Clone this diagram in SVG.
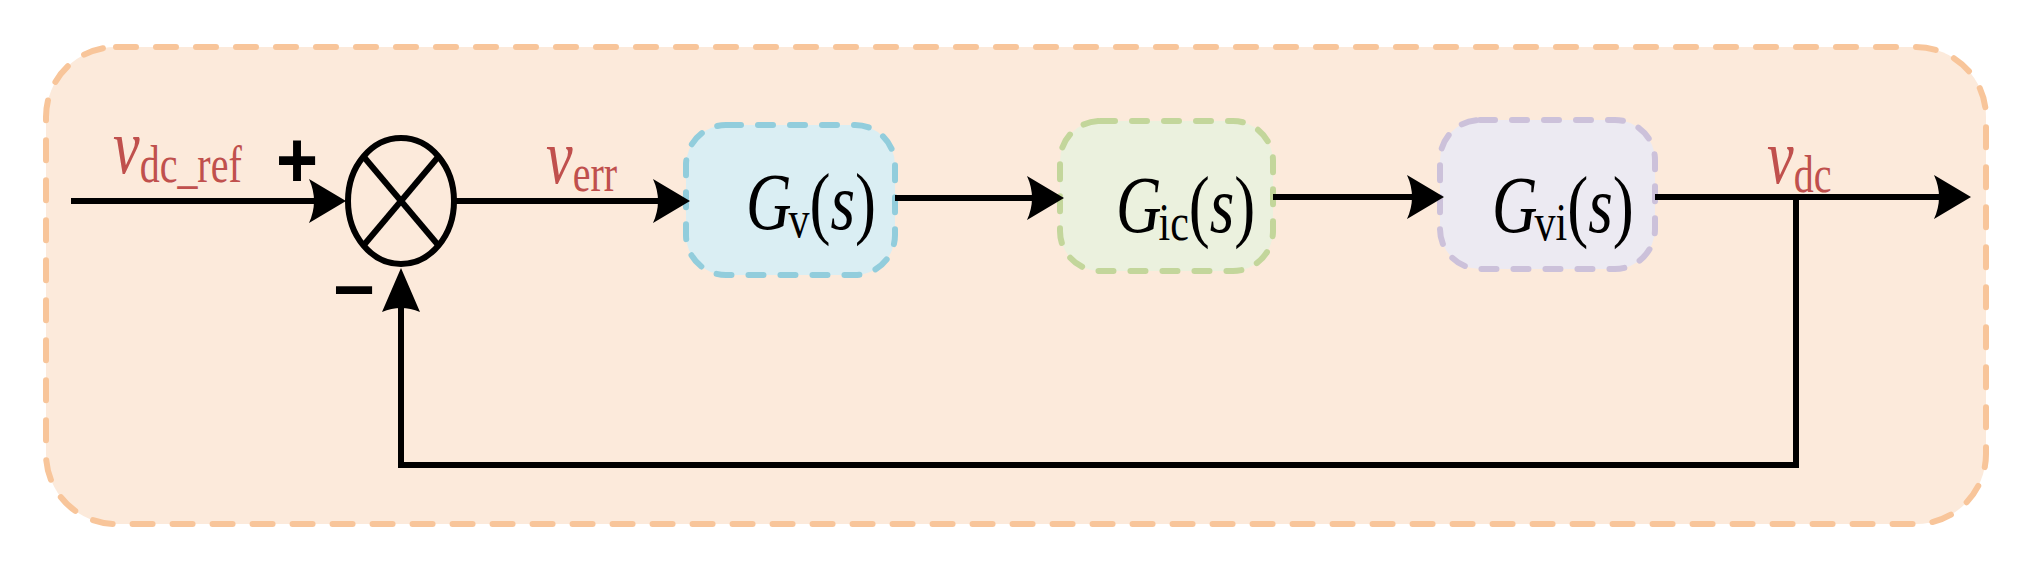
<svg xmlns="http://www.w3.org/2000/svg" xmlns:xlink="http://www.w3.org/1999/xlink" width="2022" height="564" viewBox="0 0 2022 564">
  <style>
    .lbl { font-family: "Liberation Serif", "Times New Roman", serif; font-size: 60px; }
    .big { font-size: 63px; }
    .red { fill: #C0504D; }
    .blk { fill: #000000; }
    .it { font-style: italic; }
    .sub { font-size: 40px; font-style: normal; }
    .sub2 { font-size: 42px; font-style: normal; }
    .sign { font-family: "Liberation Sans", Arial, sans-serif; font-size: 72px; font-weight: bold; fill: #000; text-anchor: middle; }
    .blk-box { stroke-width: 6; stroke-dasharray: 15 17; stroke-linecap: round; }
    .wire { fill: none; stroke: #000; stroke-width: 6; }
  </style>
  <defs>
    <path id="ah" d="M0,0 L-37,-22 Q-27,0 -37,22 Z" fill="#000"/>
    <path id="ahv" d="M0,0 L-19,44 Q0,36 19,44 Z" fill="#000"/>
  </defs>
  <rect width="2022" height="564" fill="#FFFFFF"/>

  <g id="container">
    <rect x="46" y="47" width="1940" height="477" rx="70" ry="70" fill="#FCEADB" stroke="#F8C59A" stroke-width="6" stroke-dasharray="20 20" stroke-linecap="round"/>
  </g>

  <g id="node-gv">
    <rect class="blk-box" x="686" y="125" width="209" height="150" rx="40" ry="40" fill="#DAEEF3" stroke="#92CDDC"/>
    <text class="lbl big blk" transform="translate(746,229) scale(1,1.28)"><tspan class="it">G</tspan><tspan class="sub2" dx="-3" dy="6">v</tspan><tspan dy="-6">(</tspan><tspan class="it">s</tspan><tspan>)</tspan></text>
  </g>

  <g id="node-gic">
    <rect class="blk-box" x="1060" y="121" width="213" height="150" rx="40" ry="40" fill="#EBF1DE" stroke="#C3D69B"/>
    <text class="lbl big blk" transform="translate(1116,232) scale(1,1.28)"><tspan class="it">G</tspan><tspan class="sub2" dx="-3" dy="6">ic</tspan><tspan dy="-6">(</tspan><tspan class="it">s</tspan><tspan>)</tspan></text>
  </g>

  <g id="node-gvi">
    <rect class="blk-box" x="1440" y="120" width="215" height="149" rx="40" ry="40" fill="#ECEAF2" stroke="#CCC1DA"/>
    <text class="lbl big blk" transform="translate(1492,232) scale(1,1.28)"><tspan class="it">G</tspan><tspan class="sub2" dx="-3" dy="6">vi</tspan><tspan dy="-6">(</tspan><tspan class="it">s</tspan><tspan>)</tspan></text>
  </g>

  <g id="node-sum">
    <ellipse cx="401" cy="201" rx="53" ry="63" fill="none" stroke="#000" stroke-width="6"/>
    <line x1="363.5" y1="156.5" x2="438.5" y2="245.5" stroke="#000" stroke-width="6"/>
    <line x1="438.5" y1="156.5" x2="363.5" y2="245.5" stroke="#000" stroke-width="6"/>
    <text class="sign" transform="translate(297,187) scale(1,1.1)">+</text>
    <text class="sign" transform="translate(354,314)">−</text>
  </g>

  <g id="connectors">
    <path class="wire" d="M71,201 H318"/>
    <use xlink:href="#ah" href="#ah" transform="translate(346,201)"/>
    <path class="wire" d="M456,201 H662"/>
    <use xlink:href="#ah" href="#ah" transform="translate(690,201)"/>
    <path class="wire" d="M895,198 H1036"/>
    <use xlink:href="#ah" href="#ah" transform="translate(1064,198)"/>
    <path class="wire" d="M1273,197 H1416"/>
    <use xlink:href="#ah" href="#ah" transform="translate(1444,197)"/>
    <path class="wire" d="M1655,197 H1943"/>
    <use xlink:href="#ah" href="#ah" transform="translate(1971,197)"/>
    <path class="wire" d="M1796,197 V465 H401 V305"/>
    <use xlink:href="#ahv" href="#ahv" transform="translate(401,268)"/>
  </g>

  <g id="labels">
    <text class="lbl red" transform="translate(113,173) scale(1,1.3)"><tspan class="it">v</tspan><tspan class="sub" dy="7">dc_ref</tspan></text>
    <text class="lbl red" transform="translate(546,183) scale(1,1.3)"><tspan class="it">v</tspan><tspan class="sub" dy="6">err</tspan></text>
    <text class="lbl red" transform="translate(1767,183) scale(1,1.3)"><tspan class="it">v</tspan><tspan class="sub" dy="7">dc</tspan></text>
  </g>
</svg>
